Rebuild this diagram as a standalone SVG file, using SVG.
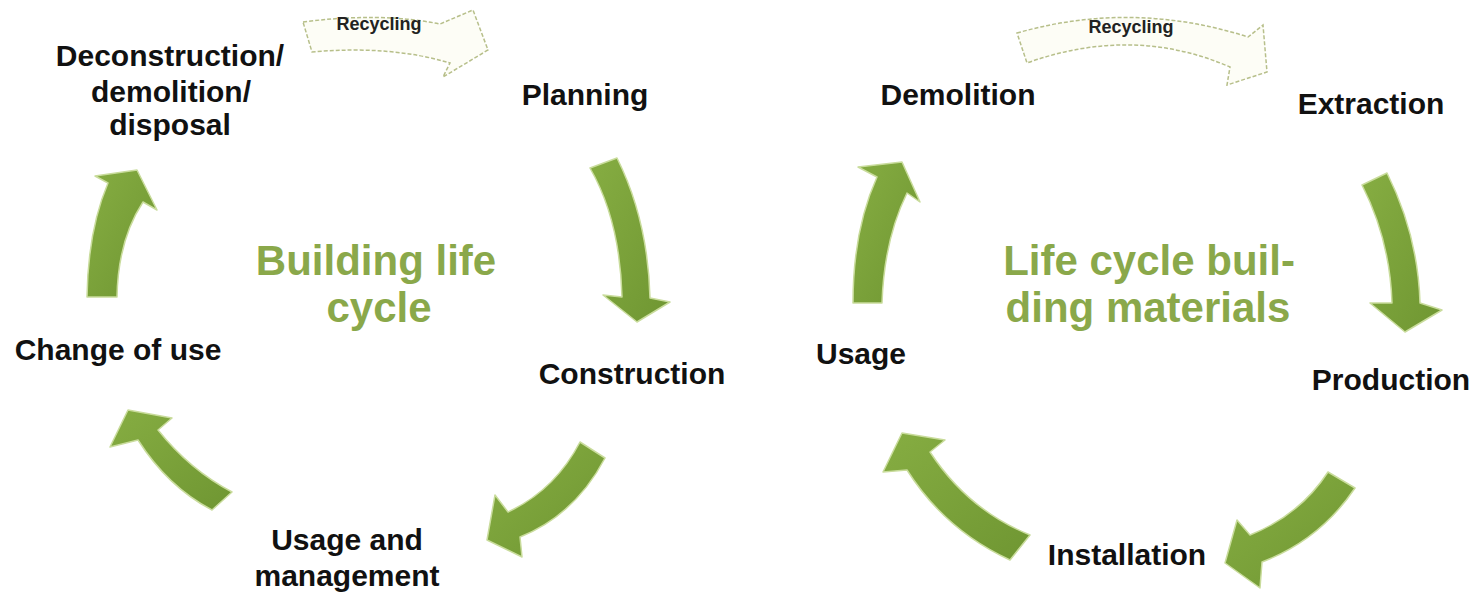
<svg xmlns="http://www.w3.org/2000/svg" width="1482" height="595" viewBox="0 0 1482 595">
<defs>
<linearGradient id="g" x1="0" y1="0" x2="1" y2="1">
<stop offset="0" stop-color="#86ad42"/>
<stop offset="1" stop-color="#6f9632"/>
</linearGradient>
</defs>
<style>
.lbl{font-family:"Liberation Sans",Arial,sans-serif;font-weight:bold;font-size:30px;fill:#111;text-anchor:middle}
.ttl{font-family:"Liberation Sans",Arial,sans-serif;font-weight:bold;font-size:42px;fill:#8aa84a;text-anchor:middle}
.rec{font-family:"Liberation Sans",Arial,sans-serif;font-weight:bold;font-size:18px;fill:#222;text-anchor:middle}
.arr{fill:url(#g);stroke:#c9dc9c;stroke-width:1.5;stroke-linejoin:round}
.recarr{fill:#fdfdf6;stroke:#b7bf8a;stroke-width:1.5;stroke-dasharray:4 2}
</style>
<rect width="1482" height="595" fill="#ffffff"/>
<g id="connectors">
<path class="recarr" d="M303,22 Q380,12 440,24 L473,10 L488,50 L443,77 L450,63 Q390,45 312,52 Z"/>
<path class="arr" d="M590,168 L617,158 Q648,220 650,298 L670,302 L637,322 L603,295 L622,297 Q620,220 590,168 Z"/>
<path class="arr" d="M580,442 L605,458 Q575,515 520,537 L522,557 L487,540 L495,495 L508,512 Q555,490 580,442 Z"/>
<path class="arr" d="M128,410 L172,418 L158,430 Q190,470 232,492 L212,510 Q168,487 138,440 L110,447 Z"/>
<path class="arr" d="M137,170 L157,210 L143,202 Q118,240 117,297 L87,297 Q88,230 108,183 L95,176 Z"/>
<path class="recarr" d="M1017,33 Q1133,0 1248,37 L1263,25 L1267,72 L1227,85 L1230,67 Q1133,25 1027,63 Z"/>
<path class="arr" d="M1362,185 L1387,173 Q1418,235 1420,303 L1442,310 L1405,332 L1370,303 L1392,303 Q1390,240 1362,185 Z"/>
<path class="arr" d="M1328,472 L1355,488 Q1320,540 1262,562 L1260,588 L1225,563 L1237,520 L1250,535 Q1300,515 1328,472 Z"/>
<path class="arr" d="M902,433 L945,440 L930,452 Q968,510 1030,535 L1010,560 Q945,530 907,470 L883,472 Z"/>
<path class="arr" d="M902,162 L920,202 L907,193 Q884,240 882,303 L853,303 Q853,230 877,177 L858,167 Z"/>
</g>
<text class="rec" x="379" y="30">Recycling</text>
<text class="rec" x="1131" y="33">Recycling</text>
<g id="title-left">
<text class="ttl" x="376" y="275">Building life</text>
<text class="ttl" x="379" y="322">cycle</text>
</g>
<g id="title-right">
<text class="ttl" x="1149" y="275">Life cycle buil-</text>
<text class="ttl" x="1148" y="322">ding materials</text>
</g>
<g id="n-deconstruction">
<text class="lbl" x="170" y="66">Deconstruction/</text>
<text class="lbl" x="171" y="102">demolition/</text>
<text class="lbl" x="170" y="135">disposal</text>
</g>
<g id="n-planning"><text class="lbl" x="585" y="105">Planning</text></g>
<g id="n-construction"><text class="lbl" x="632" y="384">Construction</text></g>
<g id="n-usage-management">
<text class="lbl" x="347" y="550">Usage and</text>
<text class="lbl" x="347" y="586">management</text>
</g>
<g id="n-change"><text class="lbl" x="118" y="360">Change of use</text></g>
<g id="n-demolition"><text class="lbl" x="958" y="105">Demolition</text></g>
<g id="n-extraction"><text class="lbl" x="1371" y="114">Extraction</text></g>
<g id="n-production"><text class="lbl" x="1391" y="390">Production</text></g>
<g id="n-installation"><text class="lbl" x="1127" y="565">Installation</text></g>
<g id="n-usage"><text class="lbl" x="861" y="364">Usage</text></g>
</svg>
